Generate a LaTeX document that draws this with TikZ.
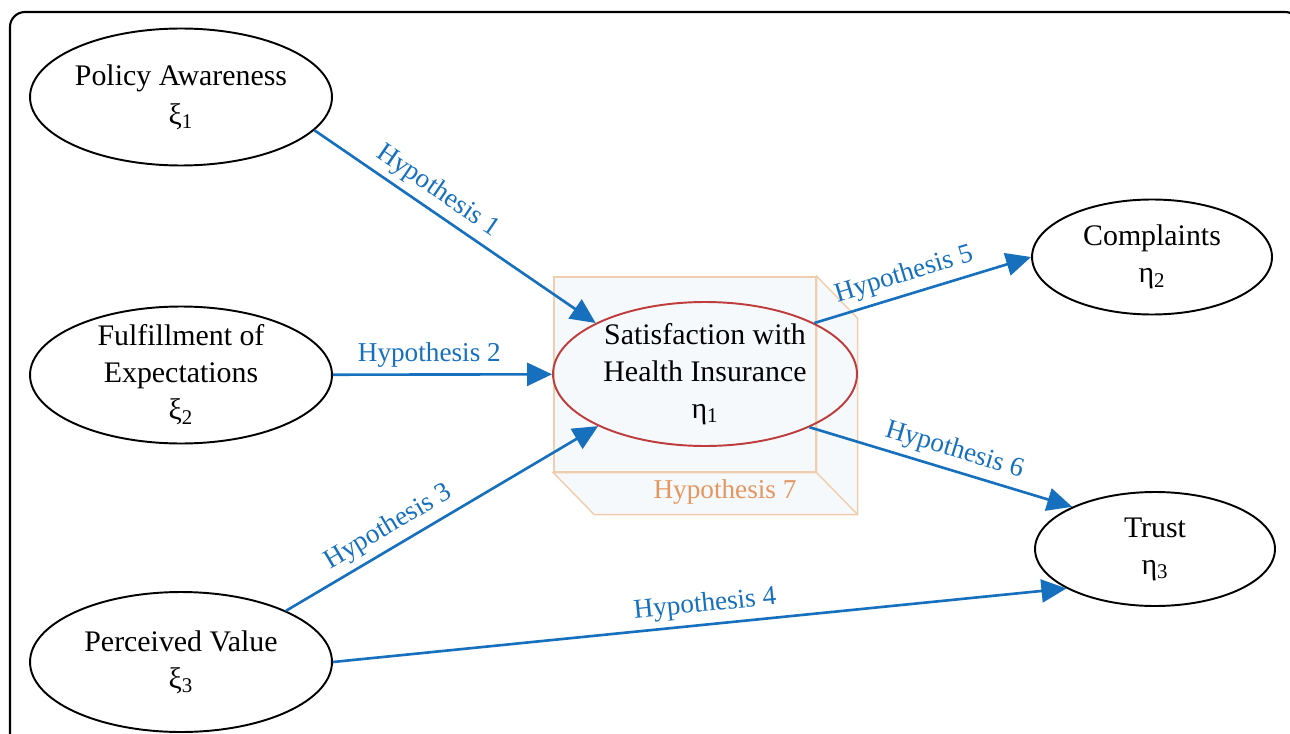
\documentclass[tikz,border=0pt]{standalone}
\usepackage{fontspec}
\setmainfont{Liberation Serif}
\usepackage{xcolor}
\usepackage{tikz}
\usetikzlibrary{shapes.geometric, arrows.meta, calc}

\definecolor{hypblue}{RGB}{22,112,190}
\definecolor{satred}{RGB}{190,60,60}
\definecolor{cubeline}{RGB}{240,205,172}
\definecolor{cubefill}{RGB}{246,249,251}
\definecolor{hyporange}{RGB}{228,150,95}

\begin{document}
\begin{tikzpicture}[
    x=0.02cm, y=-0.02cm,
    latent/.style={ellipse, draw, line width=1.1pt, align=center, inner sep=-1mm,
        font=\fontsize{17}{21}\selectfont, minimum width=6.04cm, minimum height=2.74cm},
    outcome/.style={latent, minimum width=4.8cm, minimum height=2.3cm},
    arr/.style={-{Triangle[length=5mm, width=4.6mm]}, line width=1.5pt, draw=hypblue},
    hyp/.style={font=\fontsize{15.5}{18}\selectfont, text=hypblue, sloped, above},
]

\useasboundingbox (0,0) rectangle (1290,733);
\draw[line width=1.2pt, rounded corners=0.3cm] (10,12) rectangle (1300,760);

% box behind the central construct
\node[draw=cubeline, fill=cubefill, line width=0.8pt, minimum width=5.24cm, minimum height=3.9cm] (h7) at (685,374.5) {};
\filldraw[draw=cubeline, fill=cubefill, line width=0.8pt] (h7.north east) -- ++(41,42) -- ($(h7.south east)+(41,42)$) -- ($(h7.south west)+(41,42)$) -- (h7.south west) -- (h7.south east) -- cycle;
\draw[cubeline, line width=0.8pt] (h7.south east) -- ++(41,42);
\node[font=\fontsize{15.5}{18}\selectfont, text=hyporange] (h7lab) at (725,492) {Hypothesis 7};

\node[latent] (pa) at (181,97) {Policy Awareness\\[1pt]ξ\textsubscript{1}};
\node[latent] (fe) at (181,375) {Fulfillment of\\Expectations\\ξ\textsubscript{2}};
\node[latent, minimum height=2.8cm] (pv) at (181,662) {Perceived Value\\ξ\textsubscript{3}};
\node[latent, draw=satred, minimum width=6.08cm, minimum height=2.88cm] (sat) at (705,374) {Satisfaction with\\Health Insurance\\η\textsubscript{1}};
\node[outcome] (comp) at (1152,257) {Complaints\\η\textsubscript{2}};
\node[outcome, minimum height=2.28cm] (trust) at (1155,549) {Trust\\η\textsubscript{3}};

\draw[arr] (pa.-14) -- node[hyp, pos=0.4] {Hypothesis 1} (sat.155);
\draw[arr] (fe) -- node[hyp, pos=0.44] {Hypothesis 2} (sat);
\draw[arr] (pv.26) -- node[hyp, pos=0.36] {Hypothesis 3} (sat.206);
\draw[arr] (pv.east) -- node[hyp, pos=0.51] {Hypothesis 4} (trust.204);
\draw[arr] (sat.25) -- node[hyp, pos=0.44] {Hypothesis 5} (comp.west);
\draw[arr] (sat.-27) -- node[hyp, pos=0.53] {Hypothesis 6} (trust.153);

\end{tikzpicture}
\end{document}
